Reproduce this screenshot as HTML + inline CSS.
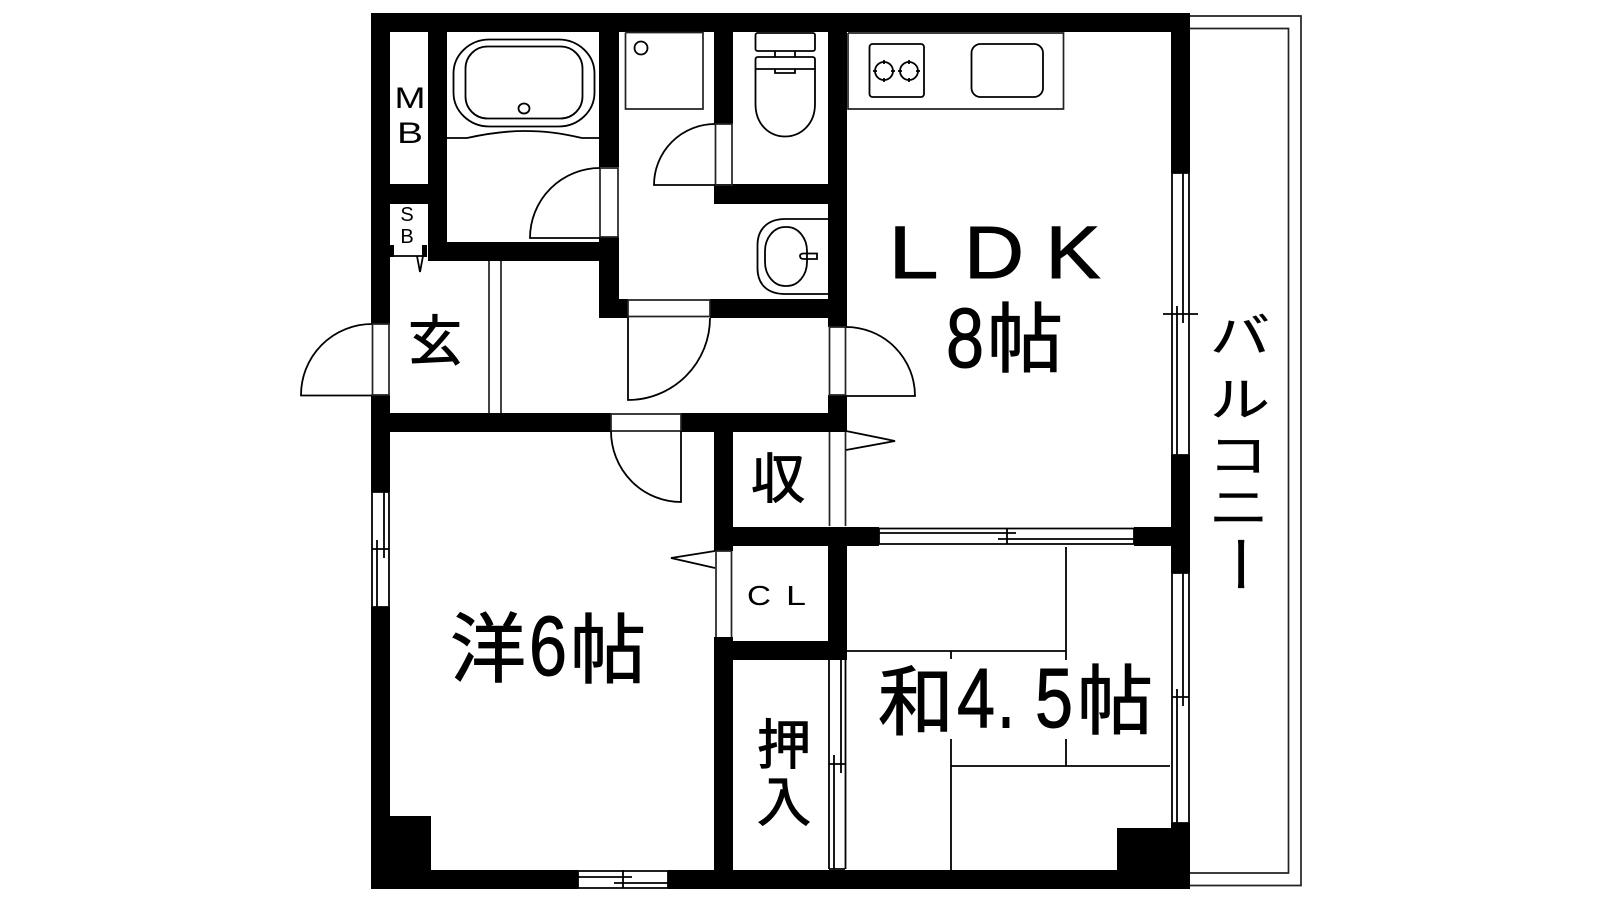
<!DOCTYPE html>
<html lang="ja"><head><meta charset="utf-8"><title>間取り図</title>
<style>
html,body{margin:0;padding:0;background:#fff;width:1600px;height:900px;overflow:hidden}
svg{display:block}
text{font-family:"Liberation Sans","Noto Sans CJK JP",sans-serif;fill:#000;text-anchor:middle}
.k{font-family:"Noto Sans CJK JP","Liberation Sans",sans-serif;stroke:#000;stroke-width:1}
.d{stroke:#000;stroke-width:1}
.l{fill:none;stroke:#000;stroke-width:1.8}
.t{fill:none;stroke:#222;stroke-width:1.7}
.g{fill:none;stroke:#222;stroke-width:1.7}
</style></head><body>
<svg width="1600" height="900" viewBox="0 0 1600 900" xmlns="http://www.w3.org/2000/svg">
<!-- balcony -->
<path class="g" d="M1190 16H1301V885.500H1190M1190 28.500H1288.500V873H1190"/>
<!-- walls -->
<g fill="#000">
<rect x="371" y="13" width="819" height="19"/>
<rect x="371" y="13" width="19" height="311"/>
<rect x="371" y="395" width="19" height="97"/>
<rect x="371" y="607" width="19" height="282"/>
<rect x="371" y="870" width="207" height="19"/>
<rect x="668" y="870" width="522" height="19"/>
<rect x="1171" y="13" width="19" height="160"/>
<rect x="1171" y="455" width="19" height="118"/>
<rect x="1171" y="823" width="19" height="66"/>
<rect x="390" y="816" width="41" height="54"/>
<rect x="1117" y="828" width="54" height="42"/>
<rect x="428" y="32" width="19" height="229"/>
<rect x="390" y="184" width="38" height="20"/>
<rect x="428" y="242" width="191" height="19"/>
<rect x="599" y="32" width="20" height="135"/>
<rect x="599" y="237" width="20" height="81"/>
<rect x="599" y="299" width="29" height="19"/>
<rect x="710" y="299" width="137" height="19"/>
<rect x="714" y="32" width="19" height="92"/>
<rect x="714" y="184" width="114" height="20"/>
<rect x="828" y="32" width="19" height="295"/>
<rect x="828" y="395" width="19" height="37"/>
<rect x="371" y="413" width="240" height="19"/>
<rect x="681" y="413" width="166" height="19"/>
<rect x="714" y="432" width="19" height="119"/>
<rect x="714" y="527" width="165" height="19"/>
<rect x="1134" y="527" width="37" height="19"/>
<rect x="828" y="527" width="19" height="133"/>
<rect x="714" y="637" width="19" height="233"/>
<rect x="733" y="641" width="114" height="19"/>
<!-- SB marks -->
<rect x="390" y="245" width="4" height="12"/>
<rect x="422" y="245" width="5" height="12"/>
</g>
<path class="l" d="M394 256H425M417 256L420 272L423 256"/>
<!-- partition -->
<path class="t" d="M489 261V413M501 261V413"/>
<!-- bath -->
<rect class="l" x="453.500" y="39.500" width="141" height="87" rx="36" ry="34"/>
<rect class="l" x="465.500" y="46.500" width="117" height="72" rx="22" ry="22"/>
<ellipse class="l" cx="524" cy="108.500" rx="5.500" ry="5"/>
<path class="l" d="M447 138H467C490 133 510 131 524 131C545 131 560 133 582 138H599"/>
<!-- bath door -->
<path class="t" d="M600 168H618V237H600Z"/>
<path class="l" d="M600 168A70 70 0 0 0 530 238H600"/>
<!-- washer pan -->
<path class="t" d="M625.500 32.500V109H703V32.500H625.500"/>
<circle class="l" cx="641" cy="48" r="6.500"/>
<!-- toilet door -->
<path class="t" d="M715.500 124H732V185H715.500Z"/>
<path class="l" d="M715 124A61 61 0 0 0 654 185H715"/>
<!-- toilet -->
<rect class="l" x="755.500" y="33" width="59.500" height="18" rx="2"/>
<path class="l" d="M775 51V57M795 51V57"/>
<path class="l" d="M755.500 69V59.500Q755.500 57 758 57H812.500Q815 57 815 59.500V69ZM775 69V73H795V69"/>
<path class="l" d="M755.500 69V104C755.500 125 770 136.500 785 136.500C800 136.500 815 125 815 104V69"/>
<!-- basin -->
<path class="l" d="M828 219H785C767 219 757.500 230 757.500 245V268C757.500 284 767 294 785 294H828"/>
<rect class="l" x="765" y="227" width="42" height="59" rx="20" ry="24"/>
<path class="l" d="M817 253.500V259H804Q800 259 800 256Q800 253.500 804 253.500Z"/>
<!-- entrance door -->
<path class="t" d="M372.500 324H389V395H372.500Z"/>
<path class="l" d="M372 324A71 71 0 0 0 301 395.500H372"/>
<!-- washroom door -->
<path class="t" d="M628 300H710V316.500H628Z"/>
<path class="l" d="M628 317V400A82 82 0 0 0 710 318"/>
<!-- corridor / LDK door -->
<path class="t" d="M829.500 327H845.500V395H829.500Z"/>
<path class="l" d="M846 327A69 69 0 0 1 915 396H846"/>
<!-- western room door -->
<path class="t" d="M611 414H681V431H611Z"/>
<path class="l" d="M611 431A70 71 0 0 0 681 502V431"/>
<!-- closet -->
<path class="t" d="M829.500 432V526M845.500 432V526"/>
<path class="l" d="M846 431L895 441L846 450"/>
<path class="t" d="M716 551V637M731.500 551V637M716 551H731.500"/>
<path class="l" d="M715 551L671 558L715 568"/>
<!-- kitchen -->
<path class="t" d="M848 33V109H1063.500V33H848"/>
<rect class="l" x="869.500" y="44" width="54.500" height="53" rx="3"/>
<circle class="l" cx="884" cy="71" r="9"/>
<circle class="l" cx="909" cy="71" r="9"/>
<path class="l" d="M884 60V64M884 78V82M873 71H877M891 71H895M909 60V64M909 78V82M898 71H902M916 71H920"/>
<rect class="l" x="971.500" y="44" width="71.500" height="53" rx="9"/>
<!-- LDK right window -->
<path class="l" d="M1172 173V455M1189 173V455M1172 173H1189M1172 455H1189M1183 173V323M1177 306V455M1163 314H1198"/>
<!-- Lower right window -->
<path class="l" d="M1172 573V823M1189 573V823M1172 573H1189M1172 823H1189M1183 573V706M1177 689V823M1172 697H1189"/>
<!-- Left window -->
<path class="l" d="M372 492V607M389 492V607M384 492V558M377 540V607M372 549H389M372 492H389M372 607H389"/>
<!-- 押入 window -->
<path class="l" d="M829 660V869M845.500 660V869M841 660V773M834 755V869M829 764H845M829 869H845"/>
<!-- horizontal LDK window -->
<path class="l" d="M879 528.500H1134M879 544H1134M879 528V544M1134 528V544M879 533H1016M998 539H1134M1007 528V544"/>
<!-- bottom window -->
<path class="l" d="M578 871H668M578 877H632M614 883H668M578 888H668M578 871V888M668 871V888M623 870V888"/>
<!-- tatami -->
<path class="l" d="M1066 547V660M847 651H1066M951 651V659M951 739V870M951 766H1170M1066 739V766"/>
<!-- labels -->
<text class="d" x="913.500" y="278" font-size="74" textLength="50" lengthAdjust="spacingAndGlyphs">L</text>
<text class="d" x="994" y="278" font-size="74" textLength="60" lengthAdjust="spacingAndGlyphs">D</text>
<text class="d" x="1073" y="278" font-size="74" textLength="55" lengthAdjust="spacingAndGlyphs">K</text>
<text class="d" x="965" y="367" font-size="84" textLength="38" lengthAdjust="spacingAndGlyphs">8</text>
<text class="k" x="1025" y="366" font-size="76">帖</text>
<text class="k" x="488" y="676" font-size="76">洋</text>
<text class="d" x="548" y="675" font-size="84" textLength="38" lengthAdjust="spacingAndGlyphs">6</text>
<text class="k" x="608" y="677" font-size="76">帖</text>
<text class="k" x="916" y="729" font-size="76">和</text>
<text class="d" x="976" y="727" font-size="84" textLength="38" lengthAdjust="spacingAndGlyphs">4</text>
<text x="1006" y="727" font-size="84" textLength="16" lengthAdjust="spacingAndGlyphs" stroke="#000" stroke-width="2">.</text>
<text class="d" x="1054" y="727" font-size="84" textLength="38" lengthAdjust="spacingAndGlyphs">5</text>
<text class="k" x="1115" y="728" font-size="76">帖</text>
<text class="k" x="435" y="360" font-size="54">玄</text>
<text class="k" x="778" y="498" font-size="54">収</text>
<text class="k" x="784" y="764" font-size="54">押</text>
<text class="k" x="784" y="821" font-size="54">入</text>
<text x="759" y="605" font-size="28" textLength="24" lengthAdjust="spacingAndGlyphs">C</text>
<text x="796" y="605" font-size="28" textLength="20" lengthAdjust="spacingAndGlyphs">L</text>
<text x="410" y="108" font-size="30" textLength="31" lengthAdjust="spacingAndGlyphs">M</text>
<text x="410" y="143" font-size="30" textLength="26" lengthAdjust="spacingAndGlyphs">B</text>
<text x="407" y="221" font-size="20">S</text>
<text x="407" y="243" font-size="20">B</text>
<text class="k" style="stroke-width:.5" font-size="60" transform="translate(1240 352) scale(1 .78)">バ</text>
<text class="k" style="stroke-width:.5" font-size="60" transform="translate(1240 416) scale(1 .78)">ル</text>
<text class="k" style="stroke-width:.5" font-size="60" transform="translate(1238 472) scale(1 .78)">コ</text>
<text class="k" style="stroke-width:.5" font-size="60" transform="translate(1239 524) scale(1 .78)">ニ</text>
<text class="k" style="stroke-width:.5" x="0" y="0" font-size="60" transform="translate(1239 564) rotate(90) translate(0 21)">ー</text>
</svg>
</body></html>
